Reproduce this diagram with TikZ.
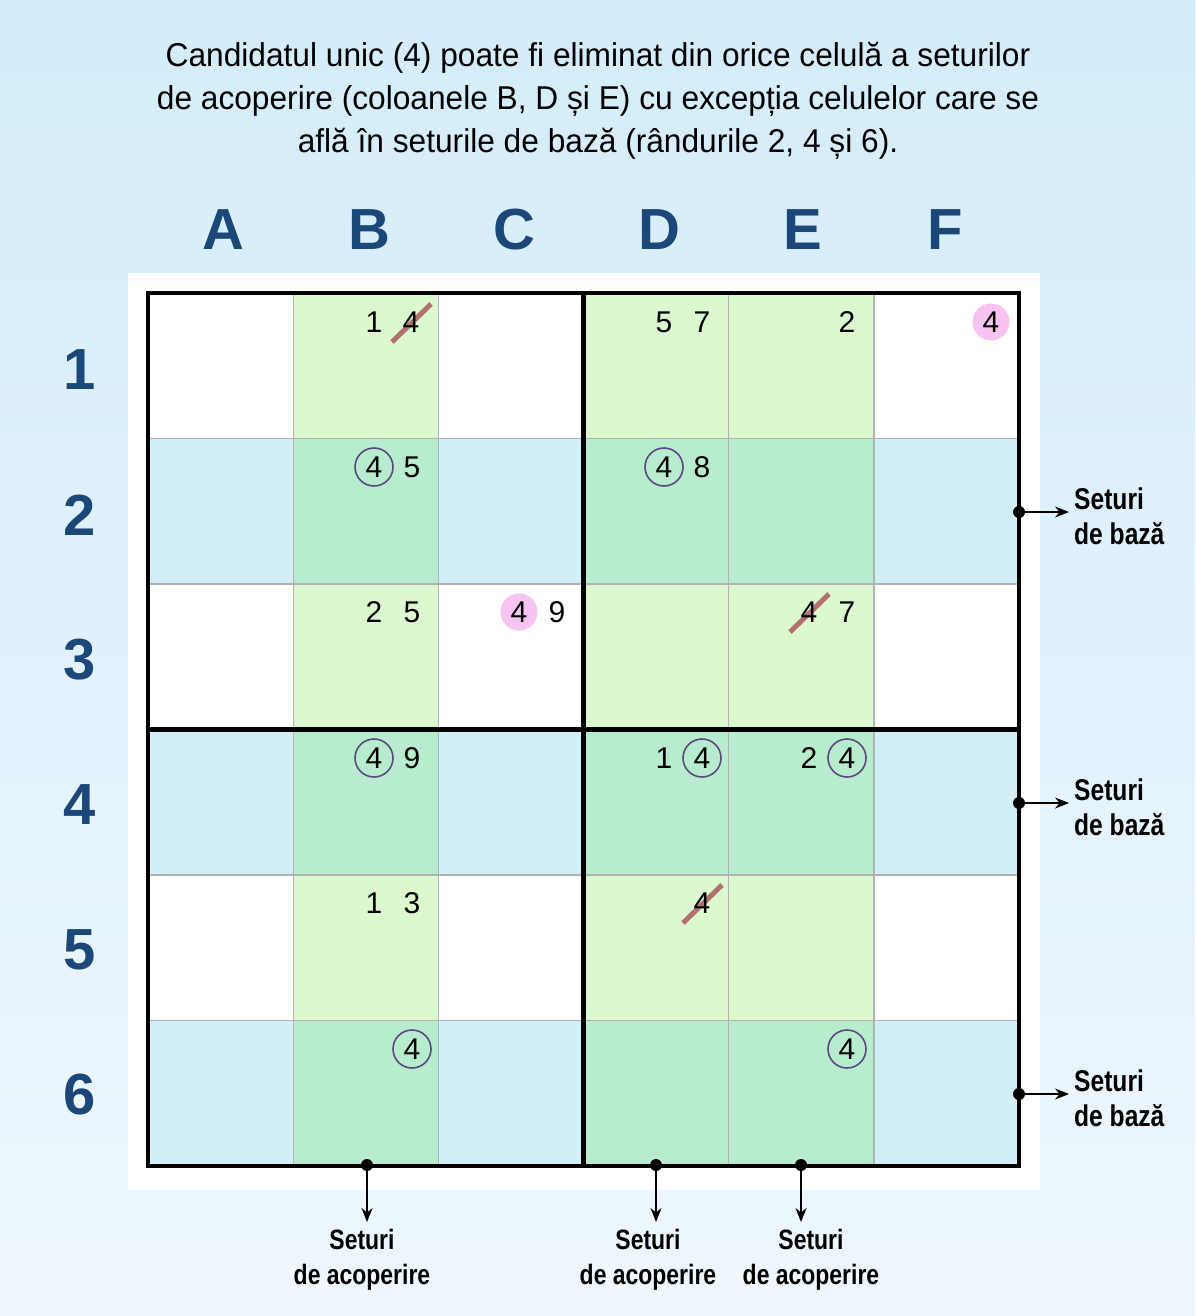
\documentclass[tikz,border=0pt]{standalone}
\usepackage{fontspec}
\setmainfont{Liberation Sans}
\newfontfamily\titlefont{Liberation Sans}[FakeStretch=0.96]
\newfontfamily\labelfont{Liberation Sans Bold}[FakeStretch=0.82]
\newfontfamily\headfont{Liberation Sans Bold}
\usetikzlibrary{arrows.meta}
\definecolor{bgtop}{RGB}{212,236,250}
\definecolor{bgbot}{RGB}{238,247,253}
\definecolor{coverc}{RGB}{220,248,207}
\definecolor{basec}{RGB}{210,238,249}
\definecolor{bothc}{RGB}{184,236,207}
\definecolor{thinc}{RGB}{178,178,178}
\definecolor{headc}{RGB}{27,72,120}
\definecolor{circc}{RGB}{92,72,128}
\definecolor{pinkc}{RGB}{247,196,242}
\definecolor{strikec}{RGB}{178,112,112}
\begin{document}
\begin{tikzpicture}[x=1pt,y=-1pt,
  dig/.style={inner sep=0pt, font=\fontsize{30}{30}\selectfont},
  circ/.style={dig, circle, draw=circc, line width=1.6pt, minimum size=38pt},
  pink/.style={dig, circle, fill=pinkc, minimum size=37pt},
  strike/.style={draw=strikec, line width=5pt},
  thin/.style={draw=thinc, line width=1.3pt},
  thick/.style={draw=black, line width=4.5pt},
  head/.style={font=\headfont\fontsize{58}{58}\selectfont, text=headc, inner sep=0pt},
  lbl/.style={font=\labelfont\fontsize{28}{35}\selectfont, inner sep=0pt},
  rlbl/.style={font=\labelfont\fontsize{30}{35}\selectfont, inner sep=0pt},
  dot/.style={circle, fill=black, inner sep=0pt, minimum size=12pt},
  arr/.style={line width=1.5pt, -{Stealth[length=14pt,width=11pt]}}]
\useasboundingbox (0,0) rectangle (1195,1316);
\shade[top color=bgtop, bottom color=bgbot] (0,0) rectangle (1195,1316);
\fill[white] (128,273) rectangle (1040,1190);
% title
\node[font=\titlefont\fontsize{33}{43}\selectfont, align=center, inner sep=0pt] (title) at (598,101)
  {Candidatul unic (4) poate fi eliminat din orice celulă a seturilor\\
   de acoperire (coloanele B, D și E) cu excepția celulelor care se\\
   află în seturile de bază (rândurile 2, 4 și 6).};
% cell fills
\foreach \r in {2,4,6}
  \fill[basec] (148,{293+(\r-1)*145.5}) rectangle ++(871,145.5);
\foreach \c in {2,4,5}
  \fill[coverc] ({148+(\c-1)*145.17},293) rectangle ++(145.17,873);
\foreach \c in {2,4,5}
  \foreach \r in {2,4,6}
    \fill[bothc] ({148+(\c-1)*145.17},{293+(\r-1)*145.5}) rectangle ++(145.17,145.5);
% thin lines
\foreach \i in {1,2,4,5} {
  \draw[thin] ({148+\i*145.17},293) -- ++(0,873);
  \draw[thin] (148,{293+\i*145.5}) -- ++(871,0);
}
% thick lines
\draw[thick] (583.5,293) -- (583.5,1166);
\draw[thick] (148,729.5) -- (1019,729.5);
\draw[thick] (148,293) rectangle (1019,1166);
% headers
\foreach \l/\x in {A/223,B/369,C/514,D/659,E/803,F/945}
  \node[head] (col\l) at (\x,230) {\l};
\foreach \n/\y in {1/370,2/515,3/660,4/805,5/950,6/1095}
  \node[head] (row\n) at (80,\y) {\n};
% struck candidates: strike first, digit on top
\coordinate (b1bpos) at (411,322);
\coordinate (e3apos) at (809,612);
\coordinate (d5bpos) at (702,903);
\foreach \p in {b1bpos,e3apos,d5bpos}
  \draw[strike] ([shift={(-19,20)}]\p) -- ([shift={(20,-18)}]\p);
\node[dig] (b1b) at (b1bpos) {4};
\node[dig] (e3a) at (e3apos) {4};
\node[dig] (d5b) at (d5bpos) {4};
% other candidates
\node[dig] (b1a) at (374,322) {1};
\node[dig] (d1a) at (664,322) {5};
\node[dig] (d1b) at (702,322) {7};
\node[dig] (e1b) at (847,322) {2};
\node[pink] (f1b) at (991,322) {4};
\node[circ] (b2a) at (374,467) {4};
\node[dig] (b2b) at (412,467) {5};
\node[circ] (d2a) at (664,467) {4};
\node[dig] (d2b) at (702,467) {8};
\node[dig] (b3a) at (374,612) {2};
\node[dig] (b3b) at (412,612) {5};
\node[pink] (c3a) at (519,612) {4};
\node[dig] (c3b) at (557,612) {9};
\node[dig] (e3b) at (847,612) {7};
\node[circ] (b4a) at (374,758) {4};
\node[dig] (b4b) at (412,758) {9};
\node[dig] (d4a) at (664,758) {1};
\node[circ] (d4b) at (702,758) {4};
\node[dig] (e4a) at (809,758) {2};
\node[circ] (e4b) at (847,758) {4};
\node[dig] (b5a) at (374,903) {1};
\node[dig] (b5b) at (412,903) {3};
\node[circ] (b6b) at (412,1049) {4};
\node[circ] (e6b) at (847,1049) {4};
% base set markers
\foreach \k/\y in {2/512,4/803,6/1094} {
  \node[dot] (bd\k) at (1019,\y) {};
  \coordinate (be\k) at (1069,\y);
  \draw[arr] (bd\k) -- (be\k);
  \node[rlbl, align=left, anchor=west] (bl\k) at (1074,{\y+4}) {Seturi\\de bază};
}
% cover set markers
\foreach \k/\x/\tx in {B/367/362,D/656/648,E/801/811} {
  \node[dot] (cd\k) at (\x,1165) {};
  \coordinate (ce\k) at (\x,1222);
  \draw[arr] (cd\k) -- (ce\k);
  \node[lbl, align=center, anchor=north] (cl\k) at (\tx,1229) {Seturi\\de acoperire};
}
\end{tikzpicture}
\end{document}
